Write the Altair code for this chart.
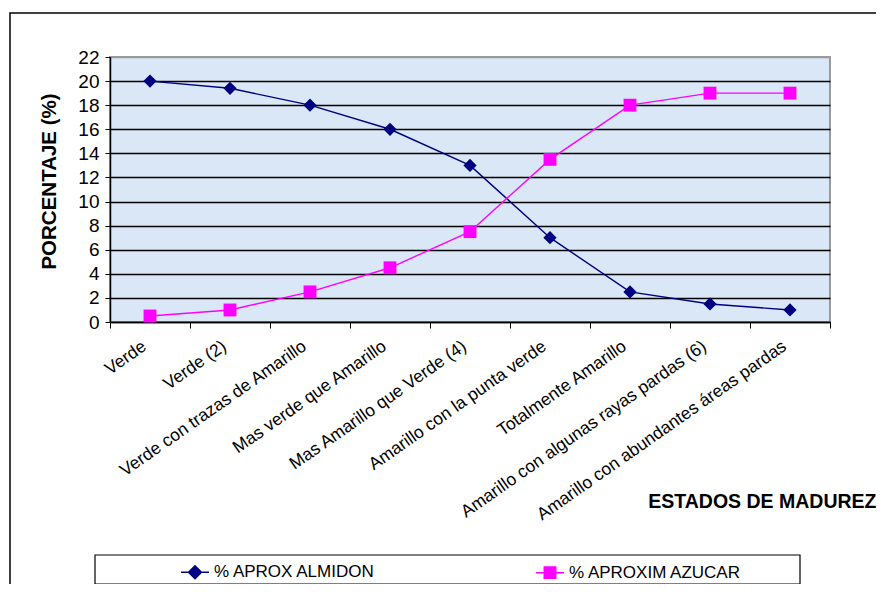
import altair as alt
import pandas as pd

estados = [
    "Verde",
    "Verde  (2)",
    "Verde con trazas de Amarillo",
    "Mas verde que Amarillo",
    "Mas Amarillo que Verde (4)",
    "Amarillo con la punta verde",
    "Totalmente Amarillo",
    "Amarillo con algunas rayas pardas (6)",
    "Amarillo con abundantes áreas pardas",
]
almidon = [20, 19.4, 18, 16, 13, 7, 2.5, 1.5, 1.0]
azucar = [0.5, 1.0, 2.5, 4.5, 7.5, 13.5, 18, 19, 19]
series = ["% APROX ALMIDON", "% APROXIM AZUCAR"]
colors = ["#000080", "#ff00ff"]
marker_shapes = ["diamond", "square"]


def diamond_path(r):
    return f"M0,-{r}L{r},0L0,{r}L-{r},0Z"


def square_path(r):
    return f"M-{r},-{r}L{r},-{r}L{r},{r}L-{r},{r}Z"


# legend symbols: a short line with a solid marker (nested outlines fill it)
legend_paths = [
    "M-1,0L1,0" + "".join(diamond_path(r) for r in ["0.46", "0.37", "0.28", "0.19", "0.10", "0.03"]),
    "M-1,0L1,0" + "".join(square_path(r) for r in ["0.41", "0.33", "0.25", "0.17", "0.09", "0.03"]),
]
y_ticks = list(range(0, 23, 2))

rows = []
for e, a, z in zip(estados, almidon, azucar):
    rows.append({"estado": e, "valor": a, "serie": series[0]})
    rows.append({"estado": e, "valor": z, "serie": series[1]})
df = pd.DataFrame(rows)

FONT = "Liberation Sans"

x_enc = alt.X(
    "estado:N",
    sort=estados,
    scale=alt.Scale(domain=estados, paddingInner=0, paddingOuter=0),
    axis=alt.Axis(
        title="ESTADOS DE MADUREZ",
        tickBand="extent",
        labelAngle=-35,
        labelAlign="right",
        labelBaseline="top",
        labelPadding=9,
        labelOffset=-11,
        labelFontSize=17.5,
        labelLimit=500,
        labelColor="black",
        tickSize=6,
        tickColor="black",
        domainColor="black",
        domainWidth=1.5,
        grid=False,
        titleFontSize=19.5,
        titleFontWeight="bold",
        titleColor="black",
        titleAlign="right",
        titleBaseline="alphabetic",
        titleX=766,
        titleY=185,
    ),
)
y_enc = alt.Y(
    "valor:Q",
    scale=alt.Scale(domain=[0, 22], nice=False, zero=True),
    axis=alt.Axis(
        title="PORCENTAJE (%)",
        values=y_ticks,
        labelFontSize=19,
        labelColor="black",
        labelPadding=6,
        tickSize=5,
        tickColor="black",
        domainColor="black",
        domainWidth=1.5,
        grid=True,
        gridColor={"condition": {"test": "datum.value >= 22", "value": "#9a9a9a"}, "value": "black"},
        gridWidth=1.5,
        titleFontSize=20.5,
        titleFontWeight="bold",
        titleColor="black",
        titleAngle=-90,
        titleAlign="center",
        titleBaseline="middle",
        titleX=-61,
        titleY=124,
    ),
)

leg_def = dict(
    title=None,
    orient="none",
    legendX=70,
    legendY=500,
    direction="horizontal",
    columnPadding=157,
    symbolSize=784,
    symbolStrokeWidth=1.5,
    symbolOpacity=1,
    symbolFillColor="transparent",
    labelFont=FONT,
    labelFontSize=17,
    labelColor="black",
    labelOffset=4,
    labelLimit=400,
    padding=0,
)

cscale = alt.Scale(domain=series, range=colors)
color_enc = alt.Color("serie:N", scale=cscale, legend=alt.Legend(**leg_def))

base = alt.Chart(df).encode(x=x_enc, y=y_enc)

lines = base.mark_line(strokeWidth=1.4).encode(color=color_enc, detail="serie:N")
pts_almidon = (
    base.transform_filter(alt.datum.serie == series[0])
    .mark_point(filled=True, size=175, opacity=1, shape=marker_shapes[0])
    .encode(color=color_enc)
)
pts_azucar = (
    base.transform_filter(alt.datum.serie == series[1])
    .mark_point(filled=True, size=165, opacity=1, shape=marker_shapes[1])
    .encode(color=color_enc)
)
legend_layer = (
    base.transform_filter("false")
    .mark_point(filled=False, strokeWidth=1.5)
    .encode(
        color=color_enc,
        shape=alt.Shape("serie:N", scale=alt.Scale(domain=series, range=legend_paths), legend=alt.Legend(**leg_def)),
    )
)

one = pd.DataFrame({"k": [0]})
outer_box = alt.Chart(one).mark_rect(fillOpacity=0, stroke="black", strokeWidth=1.5).encode(
    x=alt.value(-100), x2=alt.value(900), y=alt.value(-44), y2=alt.value(700)
)
legend_box = alt.Chart(one).mark_rect(fill="white", stroke="black", strokeWidth=1.2).encode(
    x=alt.value(-15), x2=alt.value(690), y=alt.value(498), y2=alt.value(527)
)

chart = (
    alt.layer(outer_box, legend_box, lines, pts_almidon, pts_azucar, legend_layer)
    .properties(
        width=720,
        height=265,
        autosize=alt.AutoSizeParams(type="none"),
        padding={"left": 102, "top": 49, "right": 46, "bottom": 262},
        background="white",
    )
    .configure_view(fill="#d9e7f6", stroke="#9a9a9a", strokeWidth=2)
    .configure_axis(labelFont=FONT, titleFont=FONT)
    .configure_legend(labelFont=FONT)
)

chart.save("out.html", embed_options={"renderer": "svg", "actions": False})
